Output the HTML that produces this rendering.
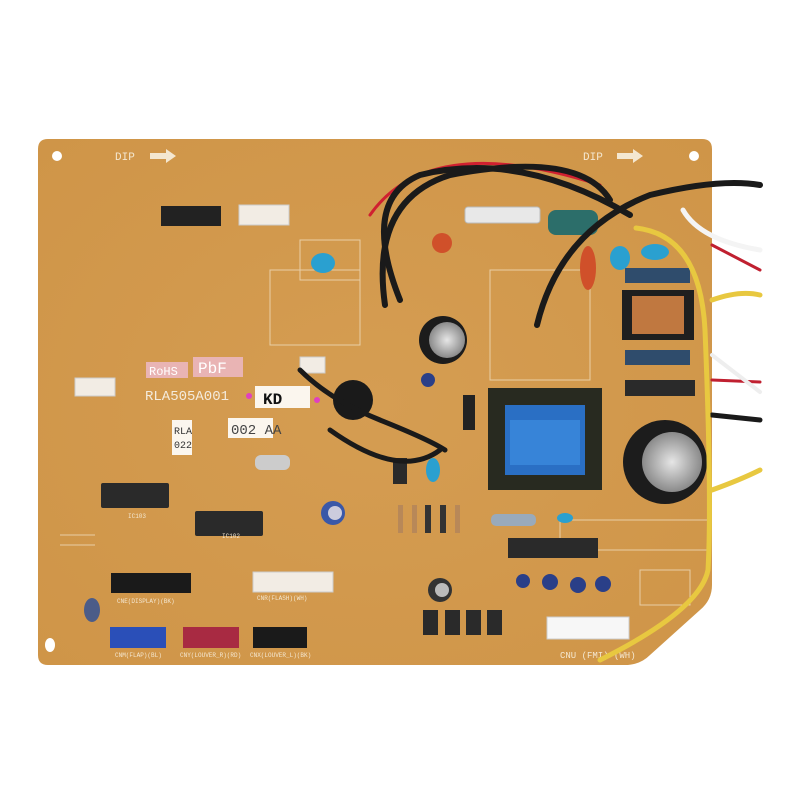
<!DOCTYPE html>
<html><head><meta charset="utf-8"><style>
html,body{margin:0;padding:0;background:#fff;width:800px;height:800px;overflow:hidden}
svg text{font-family:"Liberation Mono",monospace}
</style></head><body>
<svg width="800" height="800" viewBox="0 0 800 800" xmlns="http://www.w3.org/2000/svg">
<defs>
<radialGradient id="bg" cx="0.5" cy="0.5" r="0.7">
<stop offset="0" stop-color="#d59d52"/><stop offset="1" stop-color="#cf9548"/></radialGradient>
<radialGradient id="cap" cx="0.5" cy="0.5" r="0.5"><stop offset="0" stop-color="#e6e6e6"/><stop offset="1" stop-color="#8a8a8a"/></radialGradient>
</defs>
<!-- board -->
<path d="M48,139 L702,139 Q712,139 712,149 L712,585 Q712,600 700,610 L650,655 Q640,665 625,665 L48,665 Q38,665 38,655 L38,149 Q38,139 48,139 Z" fill="url(#bg)"/>
<circle cx="57" cy="156" r="5" fill="#fff"/><circle cx="694" cy="156" r="5" fill="#fff"/>
<ellipse cx="50" cy="645" rx="5" ry="7" fill="#fff"/>
<g fill="#f4e7d0" font-size="11"><text x="115" y="160">DIP</text><text x="583" y="160">DIP</text></g>
<path d="M150,153 h16 v-4 l10,7 l-10,7 v-4 h-16z M617,153 h16 v-4 l10,7 l-10,7 v-4 h-16z" fill="#f4e7d0"/>
<!-- silkscreen lines -->
<g stroke="#efdcbc" stroke-width="1" fill="none" opacity="0.8">
<rect x="270" y="270" width="90" height="75"/><rect x="490" y="270" width="100" height="110"/>
<rect x="300" y="240" width="60" height="40"/><line x1="60" y1="535" x2="95" y2="535"/><line x1="60" y1="545" x2="95" y2="545"/>
<rect x="560" y="520" width="150" height="30"/><rect x="640" y="570" width="50" height="35"/>
</g>
<!-- labels -->
<g font-size="12" fill="#fff">
<rect x="146" y="362" width="42" height="16" fill="#e9b4b4"/><text x="149" y="375">RoHS</text>
<rect x="193" y="357" width="50" height="20" fill="#e9b4b4"/><text x="198" y="373" font-size="16">PbF</text>
<text x="145" y="400" fill="#f4ebdc" font-size="14">RLA505A001</text>
<rect x="255" y="386" width="55" height="22" fill="#fbf6ee"/><text x="263" y="404" fill="#111" font-size="16" font-weight="bold">KD</text>
<rect x="228" y="418" width="45" height="20" fill="#fbf6ee"/><text x="231" y="434" fill="#444" font-size="14">002 AA</text>
<rect x="172" y="420" width="20" height="35" fill="#fbf6ee"/><text x="174" y="434" fill="#333" font-size="10">RLA</text><text x="174" y="448" fill="#333" font-size="10">022</text>
</g>
<circle cx="249" cy="396" r="3" fill="#e040c0"/><circle cx="317" cy="400" r="3" fill="#e040c0"/>
<!-- ICs -->
<g fill="#2a2a2a">
<rect x="101" y="483" width="68" height="25" rx="2"/><rect x="195" y="511" width="68" height="25" rx="2"/>
<rect x="508" y="538" width="90" height="20"/>
<rect x="393" y="458" width="14" height="26"/>
<rect x="423" y="610" width="15" height="25"/><rect x="445" y="610" width="15" height="25"/><rect x="466" y="610" width="15" height="25"/><rect x="487" y="610" width="15" height="25"/>
<rect x="625" y="380" width="70" height="16"/>
</g>
<!-- connectors -->
<rect x="111" y="573" width="80" height="20" fill="#1a1a1a"/>
<rect x="253" y="572" width="80" height="20" fill="#f2ece4" stroke="#ccc"/>
<rect x="110" y="627" width="56" height="21" fill="#2a4fb8"/>
<rect x="183" y="627" width="56" height="21" fill="#a82a42"/>
<rect x="253" y="627" width="54" height="21" fill="#1a1a1a"/>
<rect x="547" y="617" width="82" height="22" fill="#f7f7f7" stroke="#ccc"/>
<rect x="161" y="206" width="60" height="20" fill="#222"/>
<rect x="239" y="205" width="50" height="20" fill="#f2ece4" stroke="#ccc"/>
<rect x="75" y="378" width="40" height="18" fill="#f2ece4" stroke="#ccc"/>
<rect x="300" y="357" width="25" height="16" fill="#f2ece4" stroke="#ccc"/>
<g font-size="6" fill="#f4e7d0"><text x="117" y="603">CNE(DISPLAY)(BK)</text><text x="257" y="600">CNR(FLASH)(WH)</text><text x="115" y="657">CNM(FLAP)(BL)</text><text x="180" y="657">CNY(LOUVER_R)(RD)</text><text x="250" y="657">CNX(LOUVER_L)(BK)</text><text x="560" y="658" font-size="9">CNU (FMI) (WH)</text><text x="222" y="538">IC102</text><text x="128" y="518">IC103</text></g>
<!-- transformer -->
<rect x="488" y="388" width="114" height="102" fill="#282a20"/>
<rect x="505" y="405" width="80" height="70" fill="#2a6fc4"/>
<rect x="510" y="420" width="70" height="45" fill="#3784d8"/>
<!-- filter coils -->
<rect x="625" y="268" width="65" height="15" fill="#2f4c6c"/><rect x="625" y="350" width="65" height="15" fill="#2f4c6c"/>
<rect x="622" y="290" width="72" height="50" fill="#1f1f1f"/>
<rect x="632" y="296" width="52" height="38" fill="#c07840"/>
<!-- caps -->
<circle cx="443" cy="340" r="24" fill="#1c1c1c"/><circle cx="447" cy="340" r="18" fill="url(#cap)"/>
<circle cx="665" cy="462" r="42" fill="#1c1c1c"/><circle cx="672" cy="462" r="30" fill="url(#cap)"/>
<circle cx="353" cy="400" r="20" fill="#1a1a1a"/>
<circle cx="333" cy="513" r="12" fill="#3a58a8"/><circle cx="335" cy="513" r="7" fill="#ccd"/>
<circle cx="440" cy="590" r="12" fill="#333"/><circle cx="442" cy="590" r="7" fill="#bbb"/>
<g fill="#2a3f88"><circle cx="523" cy="581" r="7"/><circle cx="550" cy="582" r="8"/><circle cx="578" cy="585" r="8"/><circle cx="603" cy="584" r="8"/><circle cx="428" cy="380" r="7"/></g>
<ellipse cx="92" cy="610" rx="8" ry="12" fill="#4b5c88"/>
<!-- small blue/red caps -->
<g fill="#2aa0d0"><ellipse cx="323" cy="263" rx="12" ry="10"/><ellipse cx="620" cy="258" rx="10" ry="12"/><ellipse cx="655" cy="252" rx="14" ry="8"/><ellipse cx="433" cy="470" rx="7" ry="12"/><ellipse cx="565" cy="518" rx="8" ry="5"/></g>
<g fill="#d0502a"><ellipse cx="442" cy="243" rx="10" ry="10"/><ellipse cx="588" cy="268" rx="8" ry="22"/></g>
<rect x="548" y="210" width="50" height="25" rx="8" fill="#2c6e6a"/>
<!-- fuse -->
<rect x="465" y="207" width="75" height="16" rx="3" fill="#e8e8e8" stroke="#bbb"/>
<!-- diode -->
<rect x="463" y="395" width="12" height="35" fill="#222"/>
<rect x="255" y="455" width="35" height="15" rx="6" fill="#ccc"/>
<rect x="491" y="514" width="45" height="12" rx="5" fill="#9ab"/>
<g fill="#b88858"><rect x="398" y="505" width="5" height="28"/><rect x="412" y="505" width="5" height="28"/><rect x="455" y="505" width="5" height="28"/></g>
<g fill="#333"><rect x="425" y="505" width="6" height="28"/><rect x="440" y="505" width="6" height="28"/></g>
<!-- wires -->
<g fill="none" stroke-linecap="round">
<path d="M370,215 Q430,130 600,185" stroke="#d02030" stroke-width="3"/>
<path d="M712,245 L760,270" stroke="#c02030" stroke-width="3"/>
<path d="M712,380 L760,382" stroke="#c02030" stroke-width="3"/>
<path d="M683,210 Q700,240 760,250" stroke="#f4f4f4" stroke-width="5"/>
<path d="M712,355 L760,392" stroke="#eee" stroke-width="4"/>
<path d="M400,300 Q360,200 420,175 Q520,150 630,215" stroke="#1a1a1a" stroke-width="6"/>
<path d="M385,305 Q370,200 450,175 Q580,150 610,200" stroke="#1a1a1a" stroke-width="6"/>
<path d="M537,325 Q560,230 650,195 Q720,178 760,185" stroke="#1a1a1a" stroke-width="6"/>
<path d="M300,370 Q330,400 380,420 Q430,440 445,450" stroke="#1a1a1a" stroke-width="5"/>
<path d="M330,430 Q400,480 440,450" stroke="#1a1a1a" stroke-width="5"/>
<path d="M712,415 L760,420" stroke="#1a1a1a" stroke-width="5"/>
<path d="M636,228 Q700,235 705,330 Q712,500 708,570 Q700,610 600,660" stroke="#e8c840" stroke-width="5"/>
<path d="M712,300 Q740,290 760,295" stroke="#e8c840" stroke-width="5"/>
<path d="M712,490 Q740,480 760,470" stroke="#e8c840" stroke-width="5"/>
</g>
</svg>
</body></html>
